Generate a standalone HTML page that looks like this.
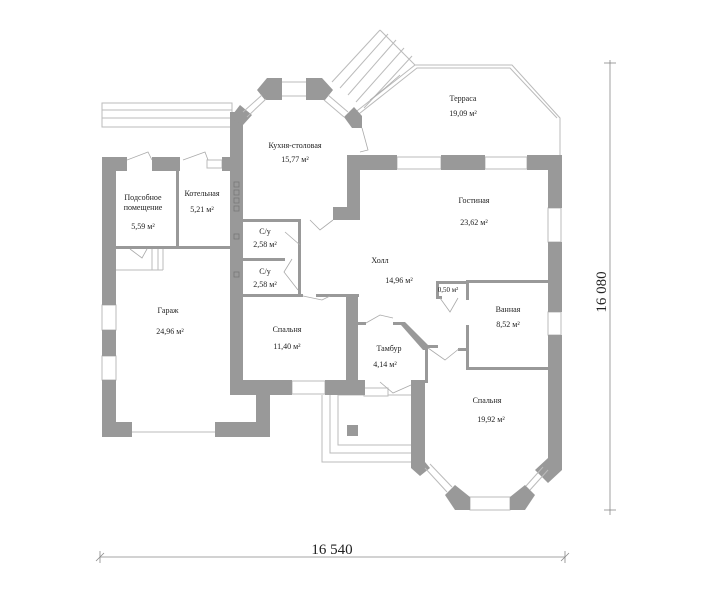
<!DOCTYPE html>
<html><head><meta charset="utf-8"><style>
html,body{margin:0;padding:0;background:#fff}
svg{display:block}
text{font-family:"Liberation Serif","DejaVu Serif",serif;fill:#222}
</style></head><body>
<svg width="714" height="600" viewBox="0 0 714 600" xmlns="http://www.w3.org/2000/svg">
<g fill="none" stroke="#bbb" stroke-width="1">
 <rect x="102" y="103" width="130" height="24"/>
 <line x1="102" y1="110" x2="232" y2="110"/>
 <line x1="102" y1="118" x2="232" y2="118"/>
 <line x1="332" y1="82" x2="380" y2="30"/><line x1="340" y1="88" x2="388" y2="34"/>
 <line x1="348" y1="95" x2="396" y2="40"/><line x1="356" y1="102" x2="404" y2="48"/>
 <line x1="364" y1="108" x2="412" y2="56"/>
 <line x1="380" y1="30" x2="415" y2="65"/>
 <polyline points="348,118 415,65 512,65 560,118 560,157"/>
 <polyline points="350,121 417,68 510,68 557,118"/>
 <line x1="152" y1="249" x2="152" y2="270"/><line x1="158" y1="249" x2="158" y2="270"/><line x1="163" y1="249" x2="163" y2="270"/>
 <line x1="116" y1="270" x2="163" y2="270"/>
 <line x1="132" y1="432" x2="215" y2="432"/>
 <polyline points="322,395 322,462 412,462"/>
 <polyline points="330,395 330,453 412,453"/>
 <polyline points="338,395 338,445 412,445"/>
 <rect x="347" y="425" width="11" height="11" fill="#999" stroke="none"/>
 <line x1="338" y1="395" x2="412" y2="395"/>
</g>
<g fill="#fff" stroke="#bbb">
 <rect x="102" y="305" width="14" height="25"/><rect x="102" y="356" width="14" height="24"/>
 <rect x="292" y="381" width="33" height="13"/>
 <rect x="397" y="157" width="44" height="12"/><rect x="485" y="157" width="42" height="12"/>
 <rect x="548" y="208" width="13" height="34"/><rect x="548" y="312" width="13" height="23"/>
 <rect x="280" y="82" width="28" height="14"/>
 <rect x="470" y="497" width="40" height="13"/>
 <rect x="207" y="160" width="15" height="8"/>
 <rect x="364" y="388" width="24" height="8"/>
</g>
<g fill="#999" stroke="none">
 <rect x="102" y="157" width="14" height="148"/>
 <rect x="102" y="330" width="14" height="26"/>
 <rect x="102" y="380" width="14" height="57"/>
 <rect x="102" y="422" width="30" height="15"/>
 <rect x="102" y="157" width="25" height="14"/>
 <rect x="152" y="157" width="28" height="14"/>
 <rect x="222" y="157" width="10" height="14"/>
 <rect x="116" y="246" width="114" height="3"/>
 <rect x="176" y="171" width="3" height="78"/>
 <rect x="215" y="422" width="55" height="15"/>
 <rect x="256" y="380" width="14" height="57"/>
 <rect x="230" y="380" width="62" height="15"/>
 <rect x="325" y="380" width="40" height="15"/>
 <rect x="230" y="112" width="13" height="283"/>
 <polygon points="230,118 240,105 252,115 243,125"/>
 <polygon points="257,90 267,78 282,78 282,100 265,100"/>
 <polygon points="306,78 322,78 333,90 325,100 306,100"/>
 <polygon points="344,117 354,107 362,116 362,128 352,128"/>
 <rect x="347" y="155" width="13" height="65"/>
 <rect x="333" y="207" width="27" height="13"/>
 <rect x="347" y="155" width="50" height="15"/>
 <rect x="441" y="155" width="44" height="15"/>
 <rect x="527" y="155" width="35" height="15"/>
 <rect x="548" y="155" width="14" height="53"/>
 <rect x="548" y="242" width="14" height="70"/>
 <rect x="548" y="335" width="14" height="125"/>
 <rect x="243" y="219" width="57" height="3"/>
 <rect x="298" y="219" width="3" height="75"/>
 <rect x="243" y="258" width="42" height="3"/>
 <rect x="243" y="294" width="60" height="3"/>
 <rect x="316" y="294" width="43" height="3"/>
 <rect x="346" y="294" width="12" height="86"/>
 <rect x="358" y="322" width="8" height="3"/>
 <polygon points="393,322 405,322 428,345 428,350 423,350 401,325 393,325"/>
 <rect x="425" y="345" width="3" height="38"/>
 <rect x="425" y="345" width="13" height="3"/>
 <rect x="411" y="380" width="14" height="82"/>
 <polygon points="411,462 425,462 430,468 420,476 411,468"/>
 <polygon points="445,495 455,485 470,497 470,510 455,510"/>
 <polygon points="510,497 525,485 535,495 525,510 510,510"/>
 <polygon points="535,470 548,458 562,458 562,470 548,483"/>
 <rect x="466" y="280" width="82" height="3"/>
 <rect x="466" y="280" width="3" height="20"/>
 <rect x="466" y="325" width="3" height="45"/>
 <rect x="466" y="367" width="82" height="3"/>
 <rect x="458" y="348" width="8" height="3"/>
 <rect x="436" y="281" width="3" height="18"/>
 <rect x="436" y="281" width="30" height="3"/>
 <rect x="436" y="296" width="6" height="3"/>
</g>
<g stroke="#bbb" fill="none">
 <line x1="243" y1="112" x2="262" y2="95"/><line x1="247" y1="117" x2="266" y2="99"/>
 <line x1="328" y1="95" x2="348" y2="112"/><line x1="324" y1="100" x2="344" y2="117"/>
 <line x1="425" y1="468" x2="447" y2="492"/><line x1="430" y1="464" x2="452" y2="487"/>
 <line x1="530" y1="490" x2="548" y2="470"/><line x1="526" y1="486" x2="543" y2="467"/>
</g>
<g fill="none" stroke="#777" stroke-width="0.8">
 <rect x="234" y="182" width="5" height="5"/><rect x="234" y="190" width="5" height="5"/>
 <rect x="234" y="198" width="5" height="5"/><rect x="234" y="206" width="5" height="5"/>
 <rect x="234" y="234" width="5" height="5"/><rect x="234" y="272" width="5" height="5"/>
</g>
<g fill="none" stroke="#aaa" stroke-width="0.8">
 <polyline points="127,160 148,152 152,160"/>
 <polyline points="183,160 205,152 208,160"/>
 <polyline points="130,249 142,258 147,249"/>
 <polyline points="310,220 320,230 333,220"/>
 <polyline points="292,259 284,272 298,290"/>
 <polyline points="285,232 300,245"/>
 <polyline points="303,296 322,300 330,296"/>
 <polyline points="366,323 380,315 393,318"/>
 <polyline points="428,348 445,360 460,348"/>
 <polyline points="440,298 450,312 458,298"/>
 <polyline points="380,382 393,393 411,385"/>
 <polyline points="362,128 368,150 360,152"/>
 <polyline points="370,100 385,88 400,75"/>
</g>
<g font-size="8" text-anchor="middle">
 <text x="295" y="148">Кухня-столовая</text><text x="295" y="162">15,77 м²</text>
 <text x="463" y="101">Терраса</text><text x="463" y="116">19,09 м²</text>
 <text x="143" y="200">Подсобное</text><text x="143" y="210">помещение</text><text x="143" y="229">5,59 м²</text>
 <text x="202" y="196">Котельная</text><text x="202" y="212">5,21 м²</text>
 <text x="265" y="234">С/у</text><text x="265" y="247">2,58 м²</text>
 <text x="265" y="274">С/у</text><text x="265" y="287">2,58 м²</text>
 <text x="474" y="203">Гостиная</text><text x="474" y="225">23,62 м²</text>
 <text x="380" y="263">Холл</text><text x="399" y="283">14,96 м²</text>
 <text x="448" y="292" font-size="7">0,50 м²</text>
 <text x="508" y="312">Ванная</text><text x="508" y="327">8,52 м²</text>
 <text x="168" y="313">Гараж</text><text x="170" y="334">24,96 м²</text>
 <text x="287" y="332">Спальня</text><text x="287" y="349">11,40 м²</text>
 <text x="389" y="351">Тамбур</text><text x="385" y="367">4,14 м²</text>
 <text x="487" y="403">Спальня</text><text x="491" y="422">19,92 м²</text>
</g>
<g stroke="#888" stroke-width="0.8">
 <line x1="100" y1="557" x2="565" y2="557"/>
 <line x1="100" y1="551" x2="100" y2="563"/><line x1="565" y1="551" x2="565" y2="563"/>
 <line x1="96" y1="561" x2="104" y2="553"/><line x1="561" y1="561" x2="569" y2="553"/>
 <line x1="610" y1="60" x2="610" y2="515"/>
 <line x1="604" y1="63" x2="616" y2="63"/><line x1="604" y1="510" x2="616" y2="510"/>
</g>
<text x="332" y="554" font-size="15" text-anchor="middle">16 540</text>
<text x="0" y="0" font-size="15" text-anchor="middle" transform="translate(606,292) rotate(-90)">16 080</text>
</svg>
</body></html>
